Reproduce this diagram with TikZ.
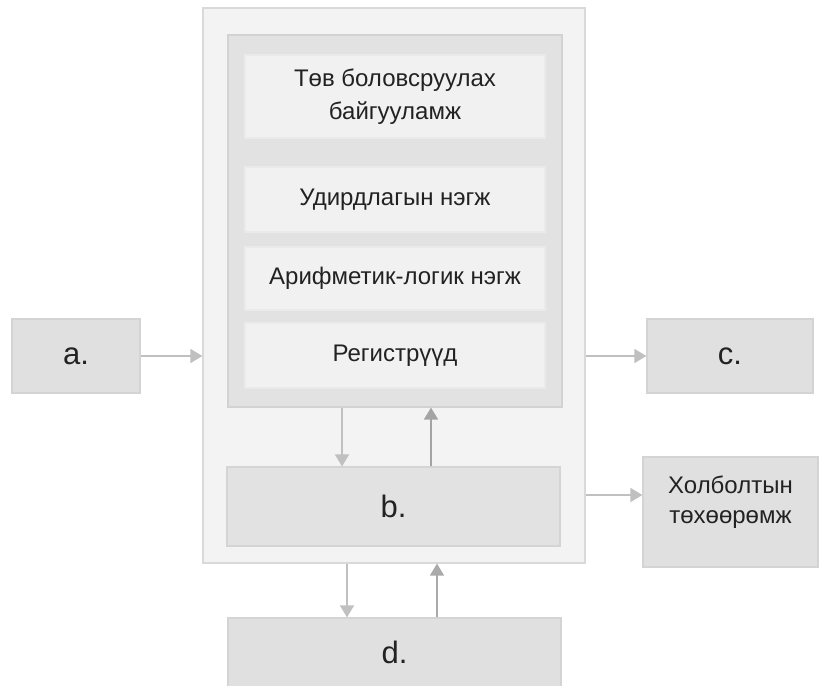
\documentclass[tikz,border=0pt]{standalone}
\usepackage{fontspec}
\setmainfont{Liberation Sans}
\usetikzlibrary{arrows.meta,calc}
\definecolor{outerfill}{HTML}{F3F3F3}
\definecolor{outerline}{HTML}{D9D9D9}
\definecolor{cpufill}{HTML}{E2E2E2}
\definecolor{cpuline}{HTML}{D2D2D2}
\definecolor{subfill}{HTML}{F1F1F1}
\definecolor{boxfill}{HTML}{E0E0E0}
\definecolor{boxline}{HTML}{D4D4D4}
\definecolor{arrowlight}{HTML}{C0C0C0}
\definecolor{arrowdark}{HTML}{A4A4A4}
\definecolor{txt}{HTML}{222222}
\tikzset{
  rect/.style={rectangle, inner sep=0pt, line width=1.2pt, text=txt},
  outerbox/.style={rect, fill=outerfill, draw=outerline},
  cpubox/.style={rect, fill=cpufill, draw=cpuline},
  subbox/.style={rect, fill=subfill, draw=subfill!97!black, minimum width=300pt, align=center,
    font=\fontsize{24}{33}\selectfont},
  greybox/.style={rect, fill=boxfill, draw=boxline},
  bigtxt/.style={font=\fontsize{31}{34}\selectfont},
  conn/.style={draw=arrowlight, line width=1.6pt, -{Triangle[width=14pt,length=12pt]}, color=arrowlight},
  conndark/.style={draw=arrowdark, line width=1.8pt, -{Triangle[width=14pt,length=12pt]}, color=arrowdark},
}
\begin{document}
\begin{tikzpicture}[x=1pt,y=-1pt]
\useasboundingbox (0,0) rectangle (820,686);
\fill[white] (0,0) rectangle (820,686);
\begin{scope}
\clip (0,0) rectangle (820,686);
% outer and cpu
\node[outerbox, minimum width=382pt, minimum height=555pt] (outer) at (394,285.5) {};
\node[cpubox, minimum width=334pt, minimum height=372pt] (cpu) at (395,221) {};
\node[subbox, minimum height=83pt] (t1) at (395,96.5) {Төв боловсруулах\\байгууламж};
\node[subbox, minimum height=65pt] (t2) at (395,199.5) {Удирдлагын нэгж};
\node[subbox, minimum height=63pt] (t3) at (395,278.5) {Арифметик-логик нэгж};
\node[subbox, minimum height=65pt] (t4) at (395,355.5) {Регистрүүд};
\node[greybox, fill=cpufill, minimum width=333pt, minimum height=79pt, bigtxt] (b) at (393.5,506.5) {b.};
% outside boxes
\node[greybox, minimum width=128pt, minimum height=74pt, bigtxt] (a) at (76,356) {a.};
\node[greybox, minimum width=166pt, minimum height=74pt, bigtxt] (c) at (730,356) {c.};
\node[greybox, minimum width=175pt, minimum height=110pt] (h) at (730.5,512) {};
\node[text=txt, align=center, font=\fontsize{24}{30}\selectfont] (htext) at ([yshift=10pt]h.center) {Холболтын\\төхөөрөмж};
\node[greybox, minimum width=333pt, minimum height=72pt, bigtxt] (d) at (394.5,654) {};
\node[text=txt, bigtxt] (dtext) at (394.5,652) {d.};
% connectors
\draw[conn] (a.east) -- (a.east -| outer.west);
\draw[conn] (outer.east |- c.west) -- (c.west);
\coordinate (hin) at ([yshift=17pt]h.west);
\draw[conn] (outer.east |- hin) -- (hin);
\coordinate (cpudn) at ([xshift=-53pt]cpu.south);
\draw[conn] (cpudn) -- (cpudn |- b.north);
\coordinate (cpuup) at ([xshift=36pt]cpu.south);
\draw[conndark] (cpuup |- b.north) -- (cpuup);
\coordinate (outdn) at ([xshift=-47pt]outer.south);
\draw[conn] (outdn) -- (outdn |- d.north);
\coordinate (outup) at ([xshift=43pt]outer.south);
\draw[conn, draw=arrowdark!80!arrowlight, color=arrowdark!80!arrowlight] (outup |- d.north) -- (outup);
\end{scope}
\end{tikzpicture}
\end{document}
